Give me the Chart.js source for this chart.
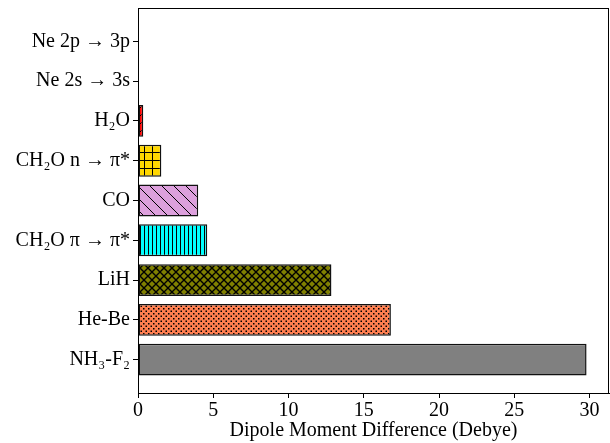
<!DOCTYPE html>
<html>
<head>
<meta charset="utf-8">
<script src="https://cdn.jsdelivr.net/npm/chart.js@4"></script>
<style>
  body { margin: 0; background: #fff; }
  #wrap { width: 610px; height: 443px; }
</style>
</head>
<body>
<div id="wrap"><canvas id="dipoleChart" width="610" height="443"></canvas></div>
<script>
// categories from bottom to top
const categories = ['NH\u2083-F\u2082', 'He-Be', 'LiH', 'CH\u2082O \u03c0 \u2192 \u03c0*', 'CO',
  'CH\u2082O n \u2192 \u03c0*', 'H\u2082O', 'Ne 2s \u2192 3s', 'Ne 2p \u2192 3p'];
const dipoleDiff = [29.8, 16.8, 12.85, 4.6, 4.0, 1.55, 0.35, 0, 0];
const xTicks = [0, 5, 10, 15, 20, 25, 30];

// matplotlib-like hatch fills
function hatch(color, kind, size) {
  const c = document.createElement('canvas');
  c.width = c.height = size;
  const g = c.getContext('2d');
  g.fillStyle = color;
  g.fillRect(0, 0, size, size);
  g.strokeStyle = '#000';
  g.fillStyle = '#000';
  g.lineWidth = 1;
  g.beginPath();
  if (kind === 'dots') {
    g.fillRect(0.5, 0.5, 1.5, 1.5);
    g.fillRect(size / 2 + 0.5, size / 2 + 0.5, 1.5, 1.5);
  } else if (kind === 'vert') {
    g.moveTo(0.5, 0); g.lineTo(0.5, size);
  } else if (kind === 'plus') {
    g.moveTo(0.5, 0); g.lineTo(0.5, size);
    g.moveTo(0, 0.5); g.lineTo(size, 0.5);
  } else if (kind === 'back') {
    g.moveTo(-1, -1); g.lineTo(size + 1, size + 1);
  } else if (kind === 'fwd') {
    g.moveTo(-1, size + 1); g.lineTo(size + 1, -1);
  } else if (kind === 'cross') {
    g.lineWidth = 1.4;
    g.moveTo(-1, -1); g.lineTo(size + 1, size + 1);
    g.moveTo(-1, size + 1); g.lineTo(size + 1, -1);
  }
  g.stroke();
  return g.createPattern(c, 'repeat');
}

const fills = [
  '#808080',
  hatch('#ff7f50', 'dots', 5),
  hatch('#808000', 'cross', 8),
  hatch('#00ffff', 'vert', 4),
  hatch('#dda0dd', 'back', 12),
  hatch('#ffd700', 'plus', 8),
  hatch('#ff0000', 'fwd', 8),
  '#ffffff',
  '#ffffff'
];

const framePlugin = {
  id: 'frame',
  afterDraw(chart) {
    const a = chart.chartArea, ctx = chart.ctx;
    ctx.save();
    ctx.strokeStyle = '#000';
    ctx.lineWidth = 1;
    ctx.strokeRect(a.left + 0.5, a.top + 0.5, a.right - a.left - 1, a.bottom - a.top);
    ctx.restore();
  }
};

const font = { family: 'Liberation Serif', size: 20 };

new Chart(document.getElementById('dipoleChart').getContext('2d'), {
  type: 'bar',
  data: {
    datasets: [{
      data: dipoleDiff.map((v, i) => ({ x: v, y: i })),
      backgroundColor: fills,
      borderColor: '#111',
      borderWidth: 1.5,
      borderSkipped: false,
      barPercentage: 0.8,
      categoryPercentage: 1
    }]
  },
  options: {
    indexAxis: 'y',
    responsive: false,
    animation: false,
    layout: { padding: { top: 8, right: 1, left: 0, bottom: 0 } },
    plugins: { legend: { display: false }, tooltip: { enabled: false } },
    scales: {
      x: {
        type: 'linear',
        min: 0,
        max: 31.29,
        afterBuildTicks: s => { s.ticks = xTicks.map(v => ({ value: v })); },
        afterFit: s => { s.height = 50; s.paddingLeft = 0; s.paddingRight = 0; },
        grid: { offset: false, drawOnChartArea: false, tickLength: 5, tickColor: '#000' },
        border: { color: '#000' },
        ticks: { color: '#000', font, padding: 1, maxRotation: 0 },
        title: { display: true, text: 'Dipole Moment Difference (Debye)', color: '#000', font, padding: { top: 5, bottom: 0 } }
      },
      y: {
        type: 'linear',
        offset: false,
        min: -0.84,
        max: 8.84,
        afterBuildTicks: s => { s.ticks = categories.map((c, i) => ({ value: i })); },
        afterFit: s => { s.width = 138; s.paddingTop = 0; s.paddingBottom = 0; },
        grid: { offset: false, drawOnChartArea: false, tickLength: 5, tickColor: '#000' },
        border: { color: '#000' },
        ticks: { color: '#000', font, padding: 3, callback: v => categories[v] }
      }
    }
  },
  plugins: [framePlugin]
});
</script>
</body>
</html>
